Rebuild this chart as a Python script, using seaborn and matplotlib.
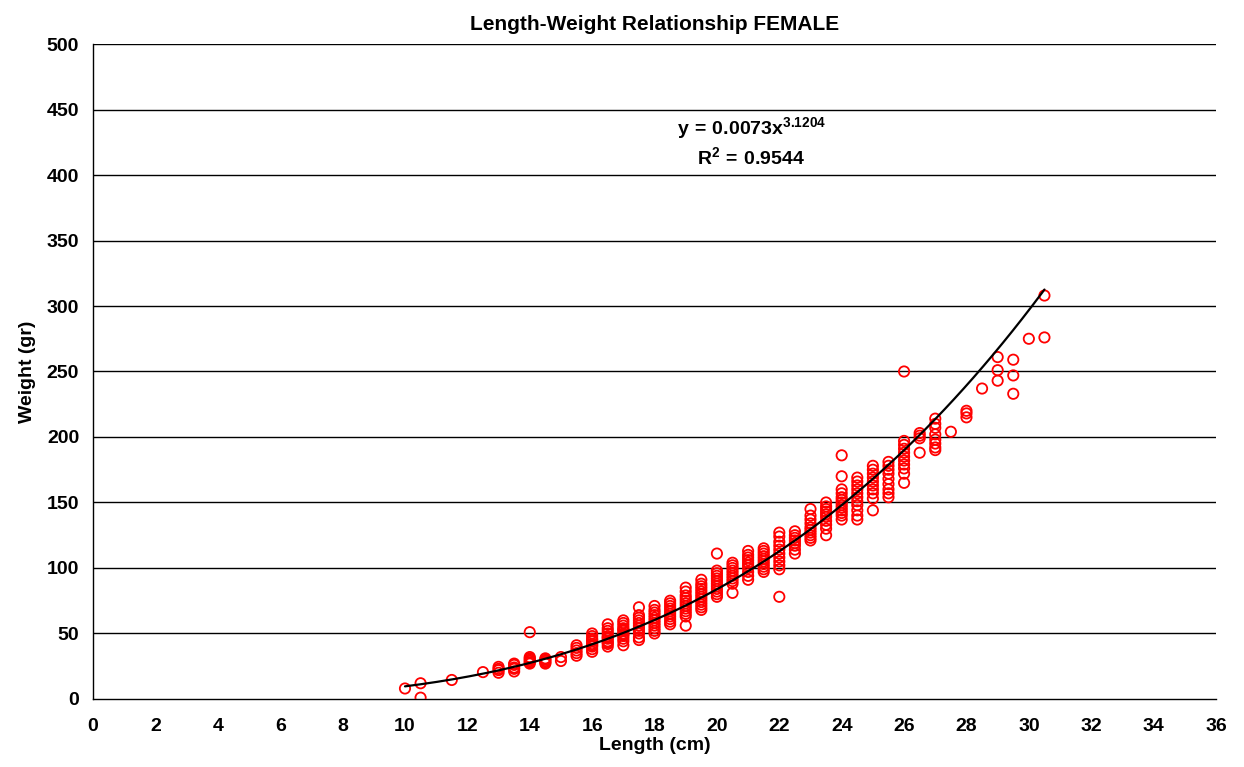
import matplotlib
matplotlib.use("Agg")
import matplotlib.pyplot as plt
import seaborn as sns
import numpy as np
import pandas as pd

# ---- data ----
groups = {
    10.0: [8],
    10.5: [12, 1],
    11.5: [14.5],
    12.5: [20.5],
    13.0: [20, 22, 23, 24.5],
    13.5: [21, 23, 24, 26, 27],
    14.0: [27, 28, 29, 30, 31, 32, 51],
    14.5: [27, 28, 29, 30, 31],
    15.0: [29, 32],
    15.5: [33, 35, 37, 39, 41],
    16.0: [36, 38, 40, 41, 42, 44, 45, 46, 48, 50],
    16.5: [40, 42, 43, 44, 46, 47, 48, 50, 52, 54, 57],
    17.0: [41, 44, 46, 48, 49, 50, 52, 53, 54, 56, 58, 60],
    17.5: [45, 47, 50, 52, 54, 56, 58, 60, 62, 64, 70],
    18.0: [50, 52, 54, 56, 58, 60, 62, 64, 66, 68, 71],
    18.5: [57, 59, 61, 63, 65, 67, 69, 71, 73, 75],
    19.0: [56, 63, 65, 67, 69, 71, 73, 75, 77, 79, 82, 85],
    19.5: [68, 70, 72, 74, 76, 78, 80, 82, 84, 86, 88, 91],
    20.0: [78, 80, 82, 84, 86, 88, 90, 92, 94, 96, 98, 111],
    20.5: [81, 88, 90, 92, 94, 96, 98, 100, 102, 104],
    21.0: [91, 94, 97, 100, 102, 104, 106, 108, 110, 113],
    21.5: [97, 99, 101, 103, 105, 107, 109, 111, 113, 115],
    22.0: [78, 99, 102, 105, 108, 111, 114, 117, 120, 124, 127],
    22.5: [111, 114, 117, 119, 121, 123, 125, 128],
    23.0: [121, 123, 125, 127, 129, 131, 134, 137, 140, 145],
    23.5: [125, 130, 133, 136, 139, 141, 143, 145, 147, 150],
    24.0: [137, 140, 142, 144, 146, 148, 150, 152, 154, 157, 160, 170, 186],
    24.5: [137, 140, 144, 148, 151, 154, 157, 160, 163, 166, 169],
    25.0: [144, 153, 157, 160, 163, 166, 169, 172, 175, 178],
    25.5: [154, 157, 160, 164, 168, 172, 175, 178, 181],
    26.0: [165, 172, 176, 179, 182, 185, 188, 191, 194, 197, 250],
    26.5: [188, 199, 201, 203],
    27.0: [190, 192, 195, 198, 202, 207, 210, 214],
    27.5: [204],
    28.0: [215, 218, 220],
    28.5: [237],
    29.0: [243, 251, 261],
    29.5: [233, 247, 259],
    30.0: [275],
    30.5: [276, 308],
}
lengths = [L for L, ws in groups.items() for _ in ws]
weights = [w for ws in groups.values() for w in ws]

fit_a = 0.0073
fit_b = 3.1204
fit_r2 = 0.9544
fit_range = (10.0, 30.5)

x_ticks = list(range(0, 37, 2))
y_ticks = list(range(0, 501, 50))

title = "Length-Weight Relationship FEMALE"
xlabel = "Length (cm)"
ylabel = "Weight (gr)"

# ---- style ----
sns.set_style("white")
plt.rcParams['font.family'] = ['Liberation Sans', 'DejaVu Sans']
plt.rcParams['mathtext.fontset'] = 'custom'
plt.rcParams['mathtext.bf'] = 'Liberation Sans:bold'
plt.rcParams['mathtext.rm'] = 'Liberation Sans:bold'
plt.rcParams['mathtext.it'] = 'Liberation Sans:bold'
for k in ['text.color', 'axes.labelcolor', 'xtick.color', 'ytick.color']:
    plt.rcParams[k] = 'black'

fig = plt.figure(figsize=(12.44, 7.67), dpi=100)
ax = fig.add_axes([0.0748, 0.0887, 0.9027, 0.8539])

df = pd.DataFrame({"Length": lengths, "Weight": weights})
sns.scatterplot(data=df, x="Length", y="Weight", ax=ax, marker='o', s=55,
                facecolor='none', edgecolor='#FF0000', linewidth=1.3, zorder=3)

xf = np.linspace(fit_range[0], fit_range[1], 200)
fit_df = pd.DataFrame({"x": xf, "y": fit_a * xf ** fit_b})
sns.lineplot(data=fit_df, x="x", y="y", ax=ax, color='black', linewidth=1.6, zorder=4)

ax.set_xlim(0, 36)
ax.set_ylim(0, 500)
ax.set_xticks(x_ticks)
ax.set_yticks(y_ticks)
ax.set_xticklabels([str(t) for t in x_ticks], fontsize=14, fontweight='bold')
ax.set_yticklabels([str(t) for t in y_ticks], fontsize=14, fontweight='bold')
ax.tick_params(axis='both', direction='out', length=6, width=1, color='black')
ax.tick_params(axis='x', pad=8)
ax.tick_params(axis='y', pad=4)

for yv in y_ticks[1:]:
    ax.axhline(yv, color='black', linewidth=1, zorder=1)

for s in ['top', 'right']:
    ax.spines[s].set_visible(False)
for s in ['left', 'bottom']:
    ax.spines[s].set_color('black')
    ax.spines[s].set_linewidth(1)

ax.set_xlabel(xlabel, fontsize=14, fontweight='bold', labelpad=1)
ax.set_ylabel(ylabel, fontsize=14, fontweight='bold', labelpad=8)
ax.set_title(title, fontsize=15, fontweight='bold', pad=10)

ax.text(21.1, 436, r'$\mathbf{y\,=\,%s x^{%s}}$' % (fit_a, fit_b),
        ha='center', va='center', fontsize=14)
ax.text(21.1, 414, r'$\mathbf{R^{2}\,=\,%s}$' % fit_r2, ha='center', va='center', fontsize=14)

fig.savefig("out.png", dpi=100, facecolor='white')
